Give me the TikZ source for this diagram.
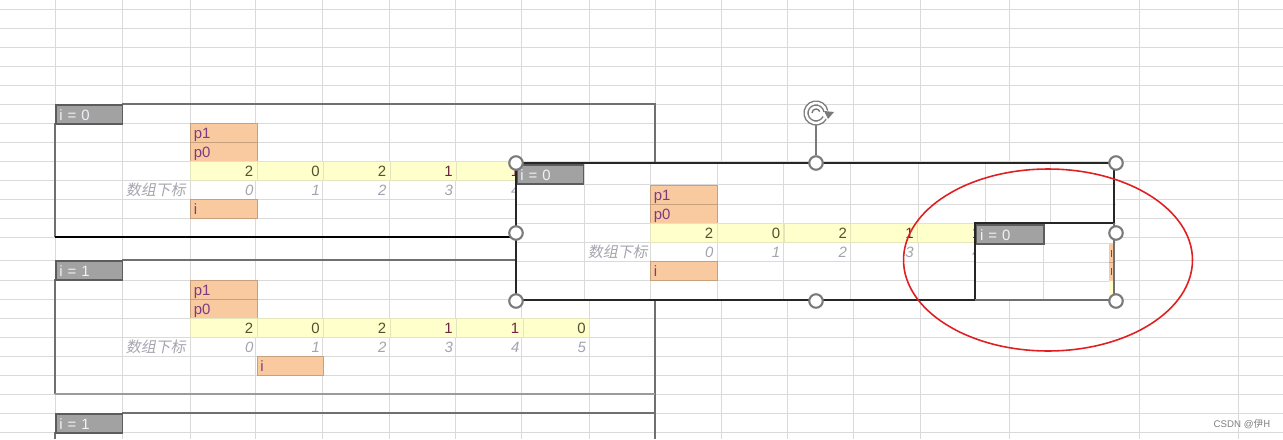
\documentclass[tikz,border=0pt]{standalone}
\usepackage{fontspec}
\setmainfont{Liberation Sans}
\newfontfamily\cjk[FakeSlant=0.2]{Noto Sans CJK SC}
\newfontfamily\cjkup{Noto Sans CJK SC}
\usetikzlibrary{positioning, shapes.geometric}

\definecolor{gridln}{HTML}{DADADA}
\definecolor{boxln}{HTML}{707070}
\definecolor{labfill}{HTML}{A2A2A2}
\definecolor{labedge}{HTML}{5C5C5C}
\definecolor{labfont}{HTML}{EEF2F8}
\definecolor{orafill}{HTML}{F9C9A0}
\definecolor{oraedge}{HTML}{C8A07C}
\definecolor{orafont}{HTML}{7B3C82}
\definecolor{yelfill}{HTML}{FFFFCC}
\definecolor{numfont}{HTML}{55502F}
\definecolor{onefont}{HTML}{6E2440}
\definecolor{idxfont}{HTML}{A4A4B0}
\definecolor{handle}{HTML}{7A7A7A}
\definecolor{markred}{HTML}{E02020}

\newcommand\onec[1]{\textcolor{onefont}{#1}}

\begin{document}
\begin{tikzpicture}[x=0.02cm, y=-0.02cm, font=\fontsize{8.5}{10}\selectfont,
   cell/.style={rectangle, anchor=north west, minimum width=1.33cm, minimum height=0.38cm,
                text width=1.19cm, inner xsep=2pt, inner ysep=0pt, text height=1.6ex, text depth=0.3ex},
   lab/.style={cell, fill=labfill, draw=labedge, line width=1pt, align=left, text=labfont},
   ora/.style={cell, fill=orafill, draw=oraedge, line width=0.4pt, align=left, text=orafont},
   yel/.style={cell, fill=yelfill, draw=yelfill!80!gray, line width=0.3pt, align=right, text=numfont},
   idx/.style={cell, align=right, text=idxfont, font=\fontsize{8.5}{10}\selectfont\itshape},
   hnd/.style={circle, draw=handle, fill=white, line width=1.2pt, minimum size=0.27cm, inner sep=0pt},
   edge1/.style={boxln, line width=1pt},
   edge2/.style={black!85, line width=1.5pt}]
  \useasboundingbox[fill=white] (0,0) rectangle (1283,439);

  % sheet grid
  \foreach \gx in {55,122,190,255,322,389,455,521,589,655,721,787,853,920,1009,1139,1238}
    \draw[gridln] (\gx,0) -- (\gx,439);
  \foreach \gy in {9,28,47,66,85,104,123,142,161,180,199,218,237,260,280,299,318,337,356,375,394,413,432}
    \draw[gridln] (0,\gy) -- (1283,\gy);

  % block i = 0
  \draw[edge1] (122,104) -- (655,104) -- (655,163);
  \draw[edge1] (55,123) -- (55,237);
  \draw[black, line width=1.4pt] (55,237) -- (516,237);
  \node[lab] (labA) at (55,104) {i = 0};
  \node[ora] (p1A) at (190,123) {p1};
  \node[ora] (p0A) at (190,142) {p0};
  \foreach \v [count=\k from 0] in {2,0,2,\onec{1},\onec{1},0}
    \node[yel] (vA\k) at ({190+66.5*\k},161) {\v};
  \node[idx] (tA) at (122,180) {\cjk 数组下标};
  \foreach \k in {0,...,5}
    \node[idx] (dA\k) at ({190+66.5*\k},180) {\k};
  \node[ora] (iA) at (190,199) {i};

  % block i = 1
  \draw[edge1] (122,260) -- (655,260) -- (655,439);
  \draw[edge1] (55,279) -- (55,394);
  \draw[boxln!70, line width=0.8pt] (55,394) -- (655,394);
  \node[lab] (labB) at (55,260) {i = 1};
  \node[ora] (p1B) at (190,280) {p1};
  \node[ora] (p0B) at (190,299) {p0};
  \foreach \v [count=\k from 0] in {2,0,2,\onec{1},\onec{1},0}
    \node[yel] (vB\k) at ({190+66.5*\k},318) {\v};
  \node[idx] (tB) at (122,337) {\cjk 数组下标};
  \foreach \k in {0,...,5}
    \node[idx] (dB\k) at ({190+66.5*\k},337) {\k};
  \node[ora] (iB) at (256.5,356) {i};

  % block i = 1 (next, cut off)
  \draw[edge1] (122,413) -- (655,413);
  \draw[edge1] (55,432) -- (55,439);
  \node[lab] (labD) at (55,413) {i = 1};

  % pasted picture
  \fill[white] (516,163) rectangle (1116,300);
  \begin{scope}
    \clip (516,163) rectangle (1116,300);
    \foreach \gx in {584,650,717,783,850,918,985,1050}
      \draw[gridln] (\gx,163) -- (\gx,300);
    \foreach \gy in {184,204,223,242,261,280}
      \draw[gridln] (516,\gy) -- (1116,\gy);
    \node[lab] (labC) at (516,164) {i = 0};
    \node[ora] (p1C) at (650,185) {p1};
    \node[ora] (p0C) at (650,204) {p0};
    \foreach \v [count=\k from 0] in {2,0,2,\onec{1},\onec{1}}
      \node[yel] (vC\k) at ({650+66.8*\k},223) {\v};
    \node[idx] (tC) at (584,242) {\cjk 数组下标};
    \foreach \k in {0,...,4}
      \node[idx] (dC\k) at ({650+66.8*\k},242) {\k};
    \node[ora] (iC) at (650,261) {i};
  \end{scope}

  % picture inside the picture
  \fill[white] (975,223) rectangle (1113,300);
  \draw[gridln] (1043,243) -- (1043,300);
  \foreach \gy in {243,262,281}
    \draw[gridln] (975,\gy) -- (1113,\gy);
  \fill[orafill] (1109,244) rectangle (1114,281);
  \draw[oraedge, line width=0.3pt] (1109,262) -- (1114,262);
  \fill[orafont] (1110.5,250) rectangle (1112,257);
  \fill[orafont] (1110.5,268) rectangle (1112,275);
  \fill[yelfill] (1109,281) rectangle (1114,299);
  \node[lab, minimum width=1.36cm] (labE) at (975,224) {i = 0};

  % selection frame
  \draw[edge2] (975,300) -- (516,300) -- (516,163) -- (1114,163) -- (1114,223) -- (975,223) -- cycle;
  \draw[boxln, line width=0.6pt] (975,300) -- (1114,300) -- (1114,223);

  % handles
  \node[hnd] (hNW) at (516,163) {};
  \node[hnd] (hN)  at (816,163) {};
  \node[hnd] (hNE) at (1116,163) {};
  \node[hnd] (hW)  at (516,233) {};
  \node[hnd] (hE)  at (1116,233) {};
  \node[hnd] (hSW) at (516,301) {};
  \node[hnd] (hS)  at (816,301) {};
  \node[hnd] (hSE) at (1116,301) {};
  \node[circle, minimum size=0.44cm, inner sep=0pt] (rot) at (816,113) {};
  \draw[handle, line width=0.8pt] (hN) -- (rot);
  \draw[handle, line width=0.8pt, double=white, double distance=1.4pt]
    ([shift={(10:0.2cm)}]rot.center) arc[start angle=10, end angle=330, radius=0.2cm];
  \fill[handle] (824,111) -- (834,112) -- (828,119) -- cycle;
  \draw[handle, line width=0.8pt] (rot.center) ++(-0.08cm,0) arc[start angle=180, end angle=20, radius=0.08cm];

  % red mark
  \node[ellipse, draw=markred, line width=0.9pt, minimum width=5.78cm, minimum height=3.64cm, inner sep=0pt] (mark) at (1048,260) {};

  \node[text=gray, font=\fontsize{5.5}{6}\selectfont] (wm) at (1242,424) {CSDN @\cjkup 伊H};
\end{tikzpicture}
\end{document}
